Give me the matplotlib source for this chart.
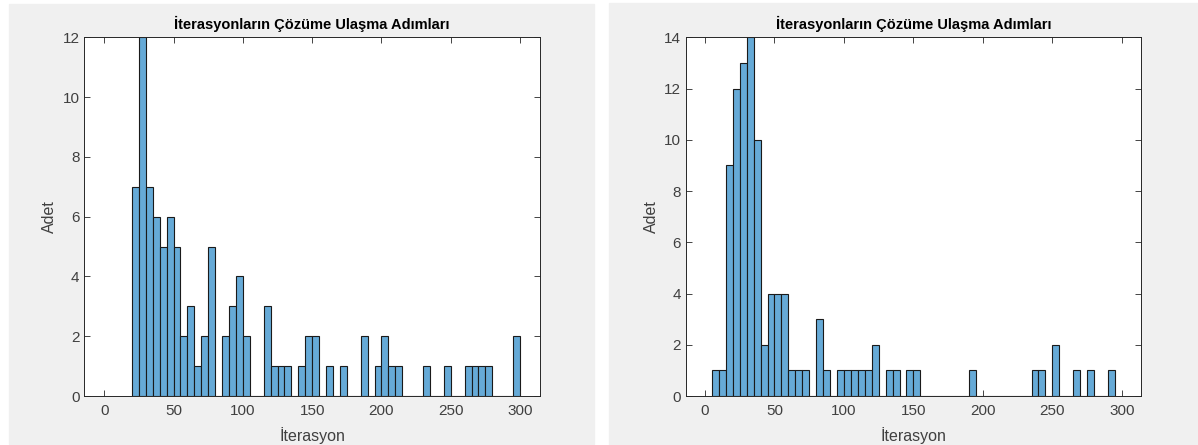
import numpy as np
import matplotlib as mpl
mpl.use('Agg')
import matplotlib.pyplot as plt
from matplotlib.patches import Rectangle

mpl.rc('font', family=['Liberation Sans', 'DejaVu Sans'], size=10.5)

# histogram data (bin width 5)
left_start = 20
left_counts = [7, 12, 7, 6, 5, 6, 5, 2, 3, 1, 2, 5, 0, 2, 3, 4, 2, 0, 0, 3,
               1, 1, 1, 0, 1, 2, 2, 0, 1, 0, 1, 0, 0, 2, 0, 1, 2, 1, 1, 0,
               0, 0, 1, 0, 0, 1, 0, 0, 1, 1, 1, 1, 0, 0, 0, 2]
right_start = 5
right_counts = [1, 1, 9, 12, 13, 14, 10, 2, 4, 4, 4, 1, 1, 1, 0, 3, 1, 0, 1, 1,
                1, 1, 1, 2, 0, 1, 1, 0, 1, 1, 0, 0, 0, 0, 0, 0, 0, 1, 0, 0,
                0, 0, 0, 0, 0, 0, 1, 1, 0, 2, 0, 0, 1, 0, 1, 0, 0, 1]
bin_w = 5
x_ticks = [0, 50, 100, 150, 200, 250, 300]
left_yticks = [0, 2, 4, 6, 8, 10, 12]
right_yticks = [0, 2, 4, 6, 8, 10, 12, 14]

title = 'İterasyonların Çözüme Ulaşma Adımları'
bar_color = '#66aad7'
axc = '#262626'

fig = plt.figure(figsize=(11.98, 4.45), dpi=100)
fig.patch.set_facecolor('white')
W, H = 1198., 445.
# gray window backgrounds (behind the axes)
fig.patches.append(Rectangle((9/W, 1-444/H), (594-9)/W, (444-4)/H,
                             transform=fig.transFigure, color='#f0f0f0', zorder=-10))
fig.patches.append(Rectangle((609/W, 0), (1198-609)/W, (445-3)/H,
                             transform=fig.transFigure, color='#f0f0f0', zorder=-10))


def draw(ax, start, counts, yticks, xlim):
  edges = start + bin_w*np.arange(len(counts))
  ax.bar(edges, counts, width=bin_w, align='edge', color=bar_color,
         edgecolor='#1a1a1a', linewidth=0.8)
  ax.set_xlim(xlim)
  ax.set_ylim(yticks[0], yticks[-1])
  ax.set_xticks(x_ticks)
  ax.set_yticks(yticks)
  ax.tick_params(direction='in', top=True, right=True, length=4,
                 colors=axc, labelcolor='#404040', labelsize=11, width=0.6)
  ax.tick_params(axis='x', pad=6)
  for s in ax.spines.values():
    s.set_color(axc)
    s.set_linewidth(0.7)
  ax.set_title(title, fontweight='bold', fontsize=10.5, color='black', pad=6)
  ax.set_xlabel('İterasyon', color='#404040', fontsize=11.5, labelpad=6)
  ax.set_ylabel('Adet', color='#404040', fontsize=11.5, labelpad=4)


ax1 = fig.add_axes([84.3/W, 1-396/H, (540-84.3)/W, (396-37.3)/H])
draw(ax1, left_start, left_counts, left_yticks, (-14.4, 314.4))
ax2 = fig.add_axes([686/W, 1-396/H, (1141-686)/W, (396-37.3)/H])
draw(ax2, right_start, right_counts, right_yticks, (-13.7, 313.8))

fig.savefig('out.png', dpi=100)
